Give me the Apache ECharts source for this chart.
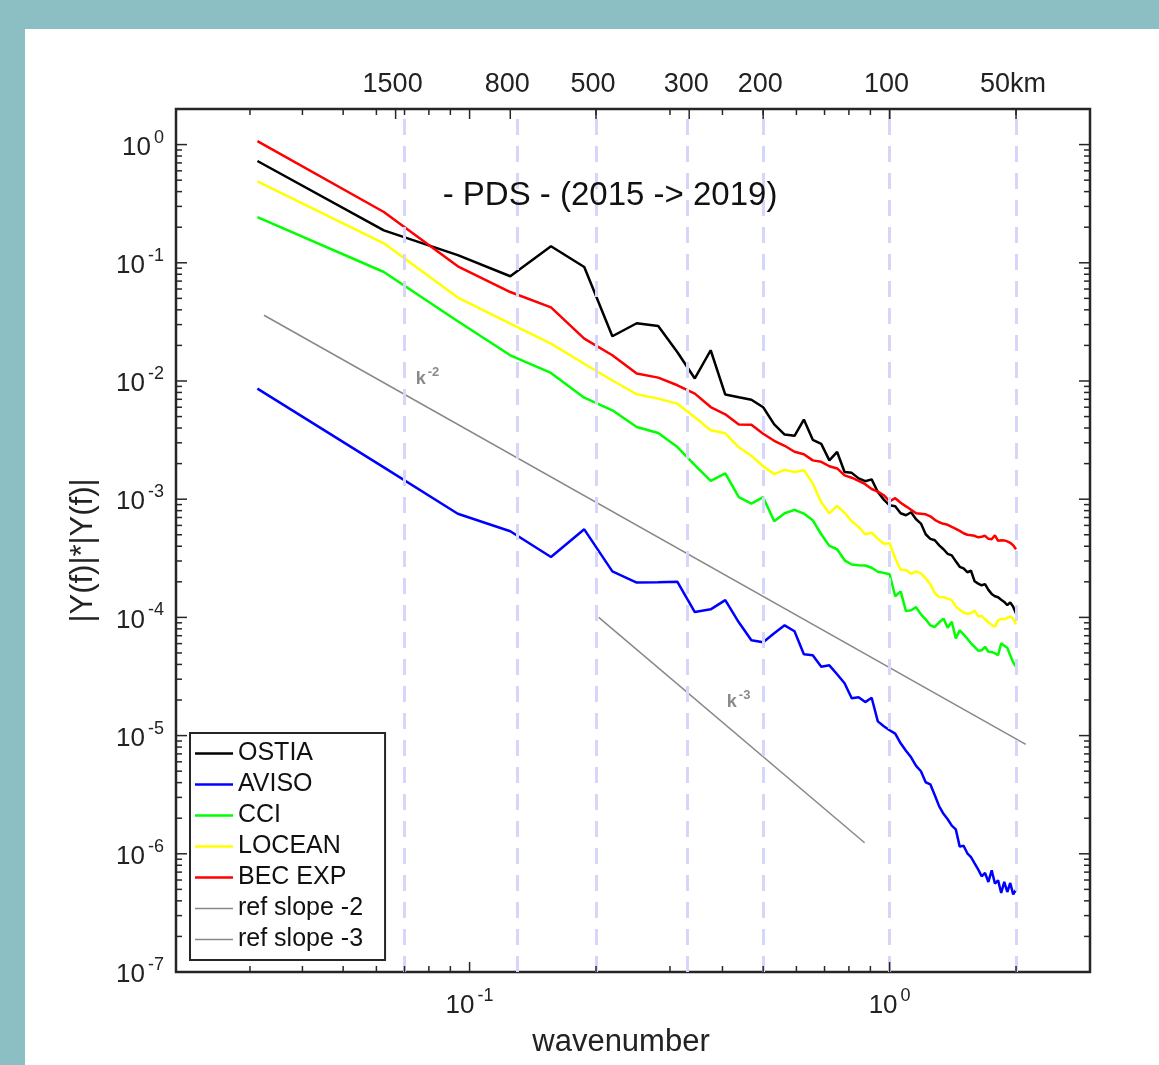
<!DOCTYPE html>
<html>
<head>
<meta charset="utf-8">
<title>PDS spectra</title>
<script src="https://cdn.jsdelivr.net/npm/echarts@6/dist/echarts.min.js"></script>
<style>
  html, body { margin: 0; padding: 0; background: #fff; }
  #chart { width: 1159px; height: 1065px; }
</style>
</head>
<body>
<div id="chart"></div>
<script>
// wavenumber samples of the spectra
const wavenumber = [0.03125, 0.0625, 0.09375, 0.125, 0.15625, 0.1875, 0.21875, 0.25, 0.28125, 0.3125,
  0.34375, 0.375, 0.40625, 0.4375, 0.46875, 0.5, 0.53125, 0.5625, 0.59375, 0.625,
  0.65625, 0.6875, 0.71875, 0.75, 0.78125, 0.8125, 0.84375, 0.875, 0.90625, 0.9375,
  0.96875, 1, 1.03125, 1.0625, 1.09375, 1.125, 1.15625, 1.1875, 1.21875, 1.25,
  1.28125, 1.3125, 1.34375, 1.375, 1.40625, 1.4375, 1.46875, 1.5, 1.53125, 1.5625,
  1.59375, 1.625, 1.65625, 1.6875, 1.71875, 1.75, 1.78125, 1.8125, 1.84375, 1.875,
  1.90625, 1.9375, 1.96875, 2]

const ostia = [0.726, 0.188, 0.116, 0.0769, 0.138, 0.0921, 0.0239, 0.0308, 0.0292, 0.0175,
  0.0105, 0.0182, 0.00768, 0.00728, 0.00693, 0.00599, 0.0043, 0.00352, 0.00344, 0.00472,
  0.00318, 0.00294, 0.00213, 0.00251, 0.0017, 0.00167, 0.0015, 0.00142, 0.00147, 0.00115,
  0.000992, 0.000888, 0.00087, 0.00076, 0.000731, 0.000775, 0.000676, 0.000622, 0.000505, 0.000462,
  0.000449, 0.000407, 0.000377, 0.000345, 0.000335, 0.000298, 0.000268, 0.00026, 0.000241, 0.000248,
  0.000202, 0.000193, 0.000187, 0.000191, 0.000171, 0.000158, 0.000151, 0.000148, 0.000141, 0.000135,
  0.000127, 0.000134, 0.000123, 0.000108]

const aviso = [0.00862, 0.00186, 0.000753, 0.000535, 0.000324, 0.000556, 0.000245, 0.000197, 0.000198, 0.0002,
  0.000111, 0.000117, 0.00014, 0.0000909, 0.000064, 0.0000616, 0.0000733, 0.0000857, 0.0000763, 0.0000487,
  0.0000478, 0.0000382, 0.0000393, 0.000033, 0.0000277, 0.0000207, 0.0000211, 0.0000192, 0.0000209, 0.0000132,
  0.000012, 0.0000111, 0.0000104, 8.61e-6, 7.44e-6, 6.55e-6, 5.55e-6, 4.99e-6, 4.03e-6, 3.87e-6,
  3.13e-6, 2.52e-6, 2.18e-6, 1.96e-6, 1.73e-6, 1.61e-6, 1.15e-6, 1.17e-6, 1.01e-6, 9.39e-7,
  8.31e-7, 7.39e-7, 6.45e-7, 6.88e-7, 5.78e-7, 7.25e-7, 5.6e-7, 5.97e-7, 4.66e-7, 5.78e-7,
  4.75e-7, 5.66e-7, 4.54e-7, 4.98e-7]

const cci = [0.243, 0.0836, 0.032, 0.0165, 0.0117, 0.00723, 0.00565, 0.00408, 0.00363, 0.00276,
  0.00194, 0.00143, 0.00165, 0.00104, 0.000918, 0.00104, 0.00065, 0.00076, 0.000813, 0.000755,
  0.000663, 0.000505, 0.000403, 0.000377, 0.000304, 0.00028, 0.000276, 0.000275, 0.000263, 0.000243,
  0.000238, 0.000232, 0.000151, 0.000166, 0.000113, 0.000115, 0.000122, 0.000106, 0.0000964, 0.0000857,
  0.000083, 0.0000909, 0.0000977, 0.0000816, 0.0000918, 0.0000665, 0.0000777, 0.0000719, 0.0000659, 0.0000604,
  0.0000562, 0.0000522, 0.0000527, 0.0000564, 0.0000512, 0.000051, 0.0000497, 0.0000478, 0.0000604, 0.0000575,
  0.0000553, 0.0000478, 0.0000417, 0.0000382]

const locean = [0.489, 0.146, 0.0508, 0.0306, 0.0207, 0.014, 0.0101, 0.00772, 0.00709, 0.00643,
  0.00493, 0.00383, 0.00361, 0.00275, 0.00233, 0.0019, 0.00163, 0.00177, 0.0017, 0.00176,
  0.00136, 0.000941, 0.00076, 0.000879, 0.000767, 0.00065, 0.000583, 0.000505, 0.00052, 0.000464,
  0.00042, 0.000424, 0.000316, 0.000253, 0.000252, 0.000234, 0.000245, 0.000236, 0.000214, 0.000191,
  0.00016, 0.000149, 0.000148, 0.000144, 0.00014, 0.000124, 0.000116, 0.00011, 0.000107, 0.000109,
  0.000114, 0.000102, 0.000103, 0.0000964, 0.0000909, 0.0000865, 0.0000833, 0.0000944, 0.0000973, 0.0000964,
  0.0000992, 0.000102, 0.0000973, 0.0000874]

const becExp = [1.07, 0.269, 0.0933, 0.0566, 0.042, 0.0228, 0.0165, 0.01155, 0.01068, 0.0092,
  0.00782, 0.00602, 0.00523, 0.00428, 0.00426, 0.00358, 0.00312, 0.00283, 0.00252, 0.0024,
  0.00213, 0.00207, 0.0019, 0.00182, 0.00159, 0.00152, 0.00143, 0.00134, 0.00122, 0.00116,
  0.00108, 0.00096, 0.00102, 0.000932, 0.00087, 0.000813, 0.00076, 0.000753, 0.000745, 0.000716,
  0.000669, 0.000638, 0.000619, 0.000607, 0.000583, 0.000562, 0.00054, 0.000515, 0.0005, 0.000495,
  0.00049, 0.000476, 0.000481, 0.00049, 0.000462, 0.000458, 0.000495, 0.000444, 0.000449, 0.000448,
  0.00044, 0.000428, 0.000407, 0.000377]

// reference slopes: end points [wavenumber, value]
const refSlope2 = [[0.0324, 0.036], [2.11, 8.43e-6]]
const refSlope3 = [[0.203, 1.0e-4], [0.872, 1.24e-6]]
const refLabel2 = [0.0794, 0.01075]
const refLabel3 = [0.437, 1.99e-5]

// top axis (wavelength in km) and tick values
const kmValues = [1500, 800, 500, 300, 200, 100, 50]
const kmLabels = ['1500', '800', '500', '300', '200', '100', '50km']
const xMinorTicks = [0.03, 0.04, 0.05, 0.06, 0.07, 0.08, 0.09, 0.2, 0.3, 0.4, 0.5, 0.6, 0.7, 0.8, 0.9, 2]
const xMajorTicks = [0.1, 1]
const yDecades = [1e-7, 1e-6, 1e-5, 1e-4, 1e-3, 1e-2, 1e-1, 1]
const yMantissas = [2, 3, 4, 5, 6, 7, 8, 9]

const X_MIN = 0.02, X_MAX = 3, Y_MIN = 1e-7, Y_MAX = 2
const AXIS_COLOR = '#262626'
const FONT = '"Liberation Sans", Arial, Helvetica, sans-serif'

const yMinorTicks = []
yDecades.slice(0, -1).forEach(d => yMantissas.forEach(m => yMinorTicks.push(m * d)))

function powLabel(v) {
  const e = Math.log10(v)
  const r = Math.round(e)
  if (Math.abs(e - r) > 1e-6) return ''
  return '{b|10}{s|' + r + '}'
}

const powRich = {
  b: { fontSize: 26, fontFamily: FONT, color: '#222', lineHeight: 32, verticalAlign: 'bottom' },
  s: { fontSize: 18, fontFamily: FONT, color: '#222', lineHeight: 18, verticalAlign: 'top', padding: [0, 0, 0, 3] }
}

function lineSeries(name, values, color) {
  return {
    name: name,
    type: 'line',
    data: wavenumber.map((k, i) => [k, values[i]]),
    symbol: 'none',
    showSymbol: false,
    lineStyle: { color: color, width: 2.5 },
    itemStyle: { color: color },
    z: 3
  }
}

function refSeries(name, points, labelAt, power) {
  return {
    name: name,
    type: 'line',
    data: points,
    symbol: 'none',
    showSymbol: false,
    lineStyle: { color: '#888', width: 1.5 },
    itemStyle: { color: '#888' },
    z: 4,
    markPoint: {
      silent: true,
      symbol: 'circle',
      symbolSize: 1,
      itemStyle: { color: 'rgba(0,0,0,0)' },
      label: {
        show: true,
        position: 'inside',
        formatter: '{k|k}{p|' + power + '}',
        rich: {
          k: { fontSize: 18, fontWeight: 'bold', color: '#8a8a8a', fontFamily: FONT, lineHeight: 22, verticalAlign: 'bottom' },
          p: { fontSize: 13, fontWeight: 'bold', color: '#8a8a8a', fontFamily: FONT, lineHeight: 13, verticalAlign: 'top', padding: [0, 0, 0, 2] }
        }
      },
      data: [{ coord: labelAt }]
    }
  }
}

const tickStyle = { stroke: AXIS_COLOR, lineWidth: 1.5 }

function hLine(x1, y1, x2, y2) {
  return { type: 'line', shape: { x1: x1, y1: y1, x2: x2, y2: y2 }, style: tickStyle }
}

const xTickSeries = {
  name: 'xticks',
  type: 'custom',
  silent: true,
  clip: false,
  z: 20,
  encode: { x: 0, y: 1 },
  data: xMinorTicks.map(k => [k, Y_MIN, 6]).concat(xMajorTicks.map(k => [k, Y_MIN, 10])),
  renderItem(params, api) {
    const k = api.value(0), len = api.value(2)
    const b = api.coord([k, Y_MIN])
    const t = api.coord([k, Y_MAX])
    return {
      type: 'group',
      children: [hLine(b[0], b[1], b[0], b[1] - len), hLine(t[0], t[1], t[0], t[1] + len)]
    }
  }
}

const yTickSeries = {
  name: 'yticks',
  type: 'custom',
  silent: true,
  clip: false,
  z: 20,
  encode: { x: 0, y: 1 },
  data: yMinorTicks.map(v => [X_MIN, v, 6]).concat(yDecades.map(v => [X_MIN, v, 11])),
  renderItem(params, api) {
    const v = api.value(1), len = api.value(2)
    const l = api.coord([X_MIN, v])
    const r = api.coord([X_MAX, v])
    return {
      type: 'group',
      children: [hLine(l[0], l[1], l[0] + len, l[1]), hLine(r[0], r[1], r[0] - len, r[1])]
    }
  }
}

const kmSeries = {
  name: 'km',
  type: 'custom',
  silent: true,
  clip: false,
  z: 20,
  encode: { x: 0, y: 1 },
  data: kmValues.map(km => [100 / km, Y_MAX]),
  renderItem(params, api) {
    const t = api.coord([api.value(0), Y_MAX])
    return {
      type: 'group',
      children: [
        hLine(t[0], t[1], t[0], t[1] + 10),
        {
          type: 'text',
          x: t[0] - 3,
          y: t[1] - 24,
          style: {
            text: kmLabels[params.dataIndex],
            fontSize: 27,
            fontFamily: FONT,
            fill: '#222',
            align: 'center',
            verticalAlign: 'middle',
            textAlign: 'center',
            textVerticalAlign: 'middle'
          }
        }
      ]
    }
  }
}

// dashed vertical guides at the km positions, drawn above the curves
const kmGuides = {
  name: 'guides',
  type: 'line',
  data: [],
  z: 10,
  markLine: {
    silent: true,
    symbol: ['none', 'none'],
    label: { show: false },
    lineStyle: { color: '#d6d6fb', width: 3, type: [16, 11] },
    data: kmValues.map(km => ({ xAxis: 100 / km }))
  }
}

const thickIcon = 'path://M0,0H38V2.5H0Z'
const thinIcon = 'path://M0,0H38V1.5H0Z'

const chart = echarts.init(document.getElementById('chart'), null, { renderer: 'canvas' })

const option = {
  backgroundColor: '#fff',
  animation: false,
  graphic: [
    { type: 'rect', silent: true, shape: { x: 0, y: 0, width: 1159, height: 29 }, style: { fill: '#8bbfc4' } },
    { type: 'rect', silent: true, shape: { x: 0, y: 0, width: 25, height: 1065 }, style: { fill: '#8bbfc4' } },
    {
      type: 'text',
      silent: true,
      z: 25,
      x: 610,
      y: 196,
      style: {
        text: '- PDS - (2015 -> 2019)',
        fontSize: 33,
        fontFamily: FONT,
        fill: '#111',
        align: 'center',
        verticalAlign: 'middle',
        textAlign: 'center',
        textVerticalAlign: 'middle'
      }
    }
  ],
  grid: {
    left: 176,
    right: 69,
    top: 109,
    bottom: 93,
    show: true,
    borderColor: AXIS_COLOR,
    borderWidth: 2.5
  },
  legend: {
    orient: 'vertical',
    left: 190,
    top: 733,
    data: [
      { name: 'OSTIA', icon: thickIcon },
      { name: 'AVISO', icon: thickIcon },
      { name: 'CCI', icon: thickIcon },
      { name: 'LOCEAN', icon: thickIcon },
      { name: 'BEC EXP', icon: thickIcon },
      { name: 'ref slope -2', icon: thinIcon },
      { name: 'ref slope -3', icon: thinIcon }
    ],
    itemWidth: 38,
    itemHeight: 3,
    itemGap: 6,
    symbolKeepAspect: true,
    selectedMode: false,
    backgroundColor: '#fff',
    borderColor: AXIS_COLOR,
    borderWidth: 2,
    borderRadius: 0,
    padding: [8, 22, 8, 5],
    textStyle: { fontSize: 25, lineHeight: 25, color: '#111', fontFamily: FONT },
    z: 30
  },
  xAxis: {
    type: 'log',
    logBase: 10,
    min: X_MIN,
    max: X_MAX,
    axisLine: { show: false },
    axisTick: { show: false },
    splitLine: { show: false },
    axisLabel: { formatter: powLabel, margin: 15, rich: powRich },
    name: 'wavenumber',
    nameLocation: 'middle',
    nameGap: 55,
    nameTextStyle: { fontSize: 31, color: '#222', fontFamily: FONT, padding: [0, 24, 0, 0] }
  },
  yAxis: {
    type: 'log',
    logBase: 10,
    min: Y_MIN,
    max: Y_MAX,
    axisLine: { show: false },
    axisTick: { show: false },
    splitLine: { show: false },
    axisLabel: { formatter: powLabel, margin: 12, rich: powRich },
    name: '|Y(f)|*|Y(f)|',
    nameLocation: 'middle',
    nameGap: 77,
    nameTextStyle: { fontSize: 31, color: '#222', fontFamily: FONT, padding: [0, 20, 0, 0] }
  },
  series: [
    lineSeries('OSTIA', ostia, '#000000'),
    lineSeries('AVISO', aviso, '#0000ff'),
    lineSeries('CCI', cci, '#00ff00'),
    lineSeries('LOCEAN', locean, '#ffff00'),
    lineSeries('BEC EXP', becExp, '#ff0000'),
    refSeries('ref slope -2', refSlope2, refLabel2, '-2'),
    refSeries('ref slope -3', refSlope3, refLabel3, '-3'),
    kmGuides,
    xTickSeries,
    yTickSeries,
    kmSeries
  ]
}

chart.setOption(option)
</script>
</body>
</html>
